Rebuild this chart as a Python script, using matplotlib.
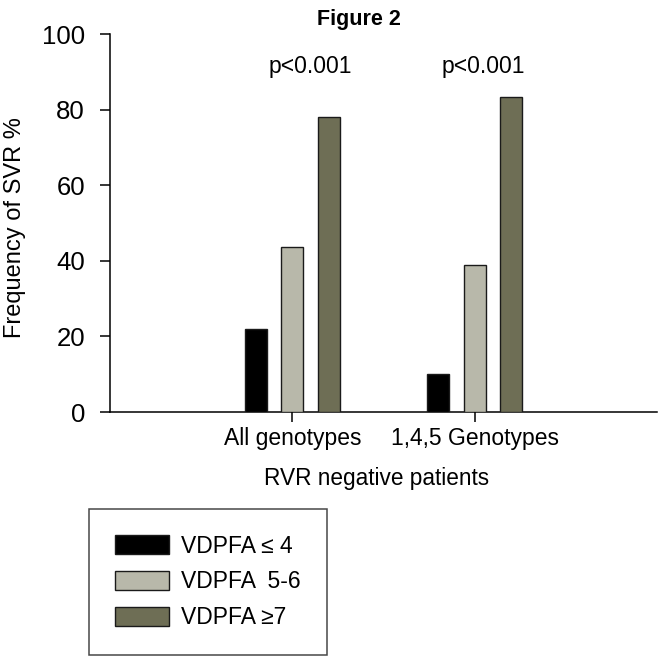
import matplotlib
matplotlib.use("Agg")
import matplotlib.pyplot as plt
from matplotlib.patches import Patch
import numpy as np

plt.rcParams['font.family'] = ['Liberation Sans', 'DejaVu Sans']

categories = ["All genotypes", "1,4,5 Genotypes"]
series_names = ["VDPFA \u2264 4", "VDPFA  5-6", "VDPFA \u22657"]
values = {
    "VDPFA \u2264 4": [22.0, 10.0],
    "VDPFA  5-6": [43.6, 38.8],
    "VDPFA \u22657": [78.0, 83.4],
}
pvalues = ["p<0.001", "p<0.001"]
yticks = [0, 20, 40, 60, 80, 100]
colors = ["#000000", "#b8b8aa", "#6e6e55"]

fig = plt.figure(figsize=(6.65, 6.62), dpi=100)
ax = fig.add_axes([110/665, 1-412/662, (657-110)/665, (412-34)/662])

x = np.arange(len(categories))
width = 0.121
offsets = [-0.2, 0.0, 0.2]
for name, off, c in zip(series_names, offsets, colors):
    ax.bar(x + off, values[name], width, color=c, edgecolor="#1a1a1a", linewidth=1.0, zorder=3)

ax.set_xlim(-1.0, 2.0)
ax.set_ylim(0, 100)
ax.set_yticks(yticks)
ax.set_xticks(x)
ax.set_xticklabels(categories, fontsize=16.5)
ax.tick_params(axis='y', labelsize=18.5, length=7, width=1.1, pad=11, direction='out')
ax.tick_params(axis='x', length=7, width=1.1, pad=4, direction='out')
for s in ['top', 'right']:
    ax.spines[s].set_visible(False)
for s in ['left', 'bottom']:
    ax.spines[s].set_linewidth(1.1)

ax.set_ylabel("Frequency of SVR %", fontsize=17, va='center')
ax.yaxis.set_label_coords((15-110)/547, (412-227.5)/378)
ax.set_xlabel("RVR negative patients", fontsize=16.3, va='center')
ax.xaxis.set_label_coords((376.5-110)/547, (412-478)/378)

for xi, dx, p in zip(x, [0.1, 0.05], pvalues):
    ax.text(xi + dx, 91.3, p, ha='center', va='center', fontsize=16.5)

fig.text(358.5/665, 1-25/662, "Figure 2", ha='center', va='baseline', fontsize=15.5, fontweight='bold')

handles = [Patch(facecolor=c, edgecolor="#1a1a1a", linewidth=1.0) for c in colors]
leg = fig.legend(handles, series_names, loc='upper left',
                 bbox_to_anchor=(89/665, 1-509/662), bbox_transform=fig.transFigure,
                 fontsize=16.5, handlelength=2.36, handleheight=0.87, handletextpad=0.55,
                 labelspacing=0.56, borderpad=1.12, borderaxespad=0.0,
                 fancybox=False, shadow=False, frameon=True)
leg.get_frame().set_edgecolor("#1a1a1a")
leg.get_frame().set_linewidth(1.1)

fig.savefig("out.png", dpi=100)
